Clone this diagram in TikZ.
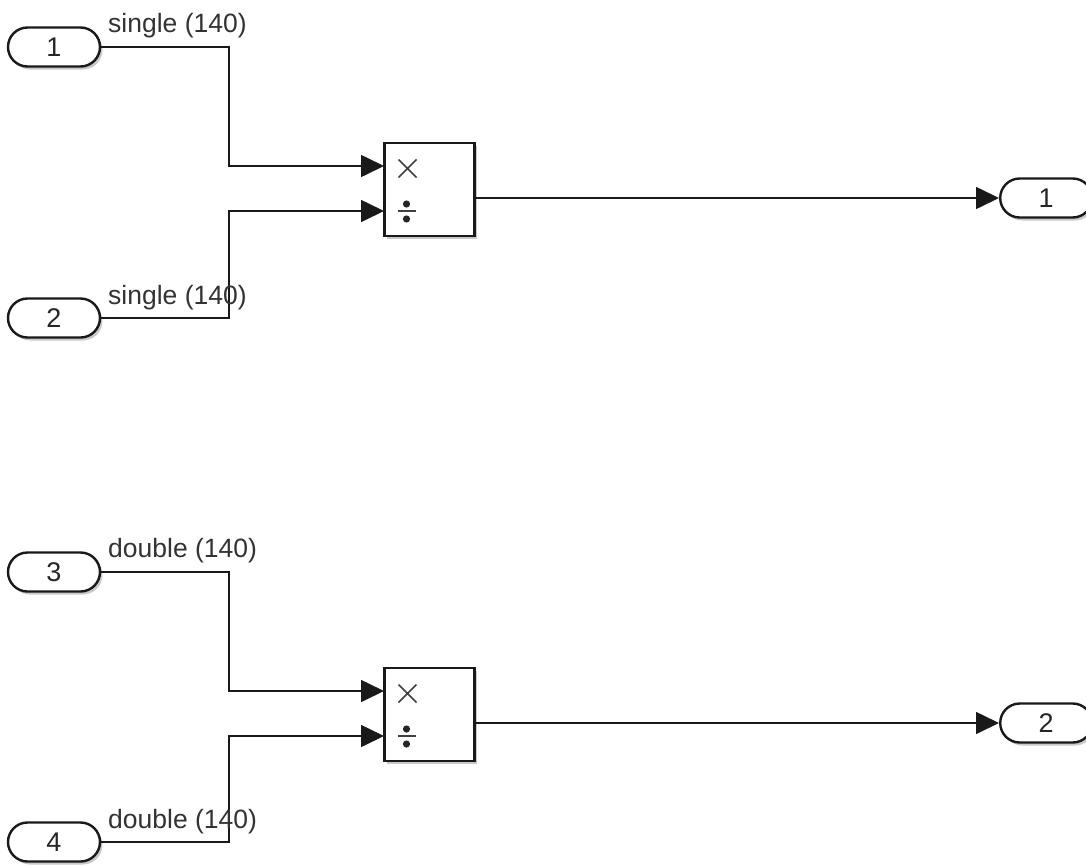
\documentclass[tikz,border=0pt]{standalone}
\usepackage{fontspec}
\setmainfont{Liberation Sans}
\usetikzlibrary{shapes.misc,shadows,arrows.meta}
\begin{document}
\begin{tikzpicture}[x=1pt,y=-1pt,
  shd/.style={drop shadow={shadow xshift=2.5pt,shadow yshift=-3pt,opacity=0.35,fill=black!60}},
  port/.style={shape=rounded rectangle,draw=black!90,line width=2.4pt,fill=white,shd,
    minimum width=92pt,minimum height=39pt,inner sep=0pt,font=\fontsize{27}{30}\selectfont,text=black!85},
  prodblk/.style={draw=black!90,line width=2.6pt,fill=white,shd,minimum width=90pt,minimum height=93pt,inner sep=0pt},
  wire/.style={draw=black!90,line width=1.6pt},
  arr/.style={wire,-{Triangle[length=23pt,width=22pt]}},
  lbl/.style={anchor=base west,inner sep=0pt,font=\fontsize{26.5}{30}\selectfont,text=black!80},
  sym/.style={line width=1.5pt,draw=black!75}]
\path[use as bounding box,fill=white] (0,0) rectangle (1086,865);

% input ports
\node[port] (in1) at (54,47) {1};
\node[port] (in2) at (54,318) {2};
\node[port] (in3) at (54,572) {3};
\node[port] (in4) at (54,842) {4};

% product blocks
\node[prodblk] (p1) at (429.5,189.5) {};
\node[prodblk] (p2) at (429.5,714.5) {};

% output ports
\node[port,anchor=west] (out1) at (999,198) {1};
\node[port,anchor=west] (out2) at (999,723) {2};

% block symbols
\draw[sym] (398.5,159.5) -- (416.5,177.5) (398.5,177.5) -- (416.5,159.5);
\draw[sym] (397.5,211) -- (415.5,211);
\fill[black!85] (406.5,204) circle (3.6pt) (406.5,219) circle (3.6pt);
\draw[sym] (398.5,684.5) -- (416.5,702.5) (398.5,702.5) -- (416.5,684.5);
\draw[sym] (397.5,736) -- (415.5,736);
\fill[black!85] (406.5,729) circle (3.6pt) (406.5,744) circle (3.6pt);

% connection points
\coordinate (p1a) at (384,166);
\coordinate (p1b) at (384,211);
\coordinate (p1o) at (475,198);
\coordinate (p2a) at (384,691);
\coordinate (p2b) at (384,736);
\coordinate (p2o) at (475,723);

% wires
\draw[arr] (in1.east) -- (229,47) |- (p1a);
\draw[arr] (in2.east) -- (229,318) |- (p1b);
\draw[arr] (in3.east) -- (229,572) |- (p2a);
\draw[arr] (in4.east) -- (229,842) |- (p2b);
\draw[arr] (p1o) -- (out1.west);
\draw[arr] (p2o) -- (out2.west);

% labels
\node[lbl] (l1) at (108,32) {single (140)};
\node[lbl] (l2) at (108,304) {single (140)};
\node[lbl] (l3) at (108,557) {double (140)};
\node[lbl] (l4) at (108,828) {double (140)};
\end{tikzpicture}
\end{document}
